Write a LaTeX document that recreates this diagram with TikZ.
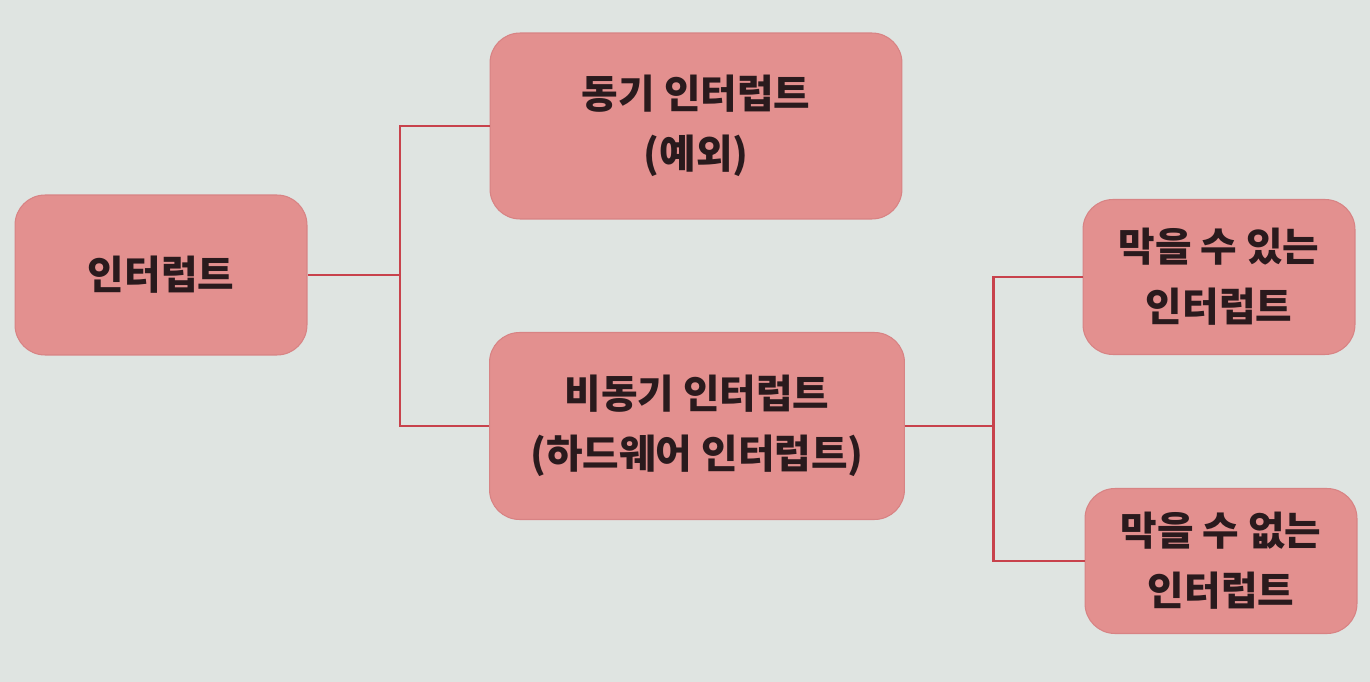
\documentclass[tikz,border=0pt]{standalone}
\usepackage{fontspec}
\setmainfont{Noto Sans CJK KR}
\definecolor{paper}{HTML}{DFE4E1}
\definecolor{boxfill}{HTML}{E3908F}
\definecolor{boxline}{HTML}{D88384}
\definecolor{linkred}{HTML}{C8424C}
\definecolor{ink}{HTML}{2A1A1D}
\begin{document}
\begin{tikzpicture}[x=0.02cm,y=-0.02cm,
    box/.style={draw=boxline,fill=boxfill,rounded corners=0.6cm,line width=0.6pt,
      align=center,inner sep=0pt,text=ink,font=\fontsize{22.6}{34}\selectfont\bfseries},
    link/.style={linkred,line width=1.7pt}]
    % paper
    \fill[paper] (0,0) rectangle (1370,682);
    \useasboundingbox (0,0) rectangle (1370,682);
    % boxes
    \node[box,minimum width=5.84cm,minimum height=3.2cm] (intr) at (161,275) {인터럽트};
    \node[box,minimum width=8.24cm,minimum height=3.72cm] (sync) at (696,126) {동기 인터럽트\\(예외)};
    \node[box,minimum width=8.3cm,minimum height=3.74cm] (async) at (697,426) {비동기 인터럽트\\(하드웨어 인터럽트)};
    \node[box,minimum width=5.44cm,minimum height=3.1cm] (mask) at (1219,277) {막을 수 있는\\인터럽트};
    \node[box,minimum width=5.44cm,minimum height=2.9cm] (nmi) at (1221,561) {막을 수 없는\\인터럽트};
    % links
    \coordinate (j1) at (400,275);
    \coordinate (j2) at (993,426);
    \draw[link] (intr.east) -- (j1);
    \draw[link] (sync.west) -| (j1) |- (async.west);
    \draw[link] (async.east) -- (j2);
    \draw[link] (mask.west) -| (j2) |- (nmi.west);
\end{tikzpicture}
\end{document}
